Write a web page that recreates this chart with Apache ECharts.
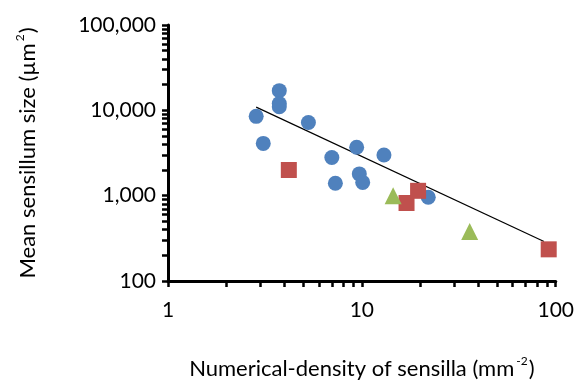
<!DOCTYPE html>
<html>
<head>
<meta charset="utf-8">
<script src="https://cdn.jsdelivr.net/npm/echarts@6/dist/echarts.min.js"></script>
<style>
  html, body { margin: 0; padding: 0; background: #fff; }
  #chart { width: 577px; height: 385px; }
</style>
</head>
<body>
<div id="chart"></div>
<script>
// points: [density, size]
var bluePoints = [[2.85, 8500], [3.75, 17000], [3.75, 12000], [3.75, 11000], [3.1, 4100],
  [5.3, 7200], [7.0, 2800], [7.3, 1400], [9.4, 3700], [9.7, 1800], [10.1, 1430],
  [13, 3000], [22, 960]];
var redPoints = [[4.2, 2000], [17, 820], [19.5, 1140], [92, 235]];
var greenPoints = [[14.5, 1000], [36, 380]];
var fitLine = [[2.85, 10900], [87, 290]];

var xTicks = [1, 2, 3, 4, 5, 6, 7, 8, 9, 10, 20, 30, 40, 50, 60, 70, 80, 90, 100];
var xLabels = [1, 10, 100];
var yTicks = [100, 200, 300, 400, 500, 600, 700, 800, 900,
  1000, 2000, 3000, 4000, 5000, 6000, 7000, 8000, 9000,
  10000, 20000, 30000, 40000, 50000, 60000, 70000, 80000, 90000, 100000];
var yLabels = [100, 1000, 10000, 100000];

var font = 'Lato';

// title text with a raised superscript
var titleRich = {
  t: { fontFamily: font, fontSize: 22, color: '#000', lineHeight: 28 },
  s: { fontFamily: font, fontSize: 12, color: '#000', lineHeight: 12, verticalAlign: 'top', padding: [0, 1, 0, 2] }
};

var chart = echarts.init(document.getElementById('chart'));
chart.setOption({
  animation: false,
  backgroundColor: '#fff',
  grid: { left: 168, right: 21, top: 25, bottom: 100 },
  xAxis: {
    type: 'log',
    logBase: 10,
    min: 1,
    max: 100,
    name: '{t|Numerical-density of sensilla (mm}{s|-2}{t|)}',
    nameLocation: 'middle',
    nameGap: 74,
    nameTextStyle: { rich: titleRich },
    splitLine: { show: false },
    axisLine: { lineStyle: { color: '#000', width: 3 } },
    axisTick: { customValues: xTicks, length: 6, lineStyle: { color: '#000', width: 2.5 } },
    axisLabel: { customValues: xLabels, margin: 19, fontFamily: font, fontSize: 21, color: '#000' }
  },
  yAxis: {
    type: 'log',
    logBase: 10,
    min: 100,
    max: 100000,
    name: '{t|Mean sensillum size (µm}{s|2}{t|)}',
    nameLocation: 'middle',
    nameGap: 126,
    nameTextStyle: { rich: titleRich },
    splitLine: { show: false },
    axisLine: { lineStyle: { color: '#000', width: 3 } },
    axisTick: { customValues: yTicks, length: 6, lineStyle: { color: '#000', width: 2.5 } },
    axisLabel: {
      customValues: yLabels,
      margin: 12,
      fontFamily: font,
      fontSize: 21,
      color: '#000',
      formatter: function (v) {
        return String(Math.round(v)).replace(/\B(?=(\d{3})+(?!\d))/g, ',');
      }
    }
  },
  series: [
    {
      type: 'line',
      data: fitLine,
      symbol: 'none',
      lineStyle: { color: '#000', width: 1.2 },
      z: 1
    },
    {
      type: 'scatter',
      data: bluePoints,
      symbol: 'circle',
      symbolSize: 15,
      itemStyle: { color: '#4F81BD', opacity: 1 },
      z: 2
    },
    {
      type: 'scatter',
      data: redPoints,
      symbol: 'rect',
      symbolSize: 16,
      itemStyle: { color: '#C0504D', opacity: 1 },
      z: 3
    },
    {
      type: 'scatter',
      data: greenPoints,
      symbol: 'triangle',
      symbolSize: 17,
      itemStyle: { color: '#9BBB59', opacity: 1 },
      z: 3
    }
  ]
});
</script>
</body>
</html>
